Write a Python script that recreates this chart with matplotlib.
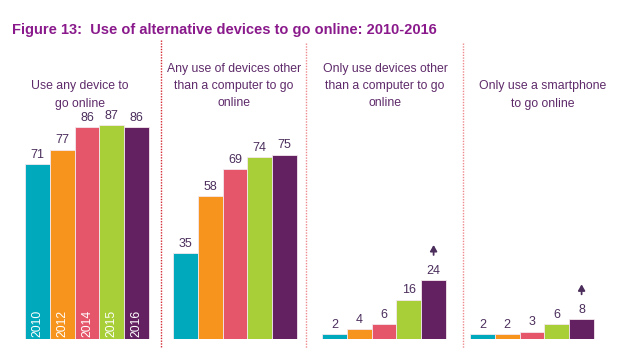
import matplotlib
matplotlib.use("Agg")
import matplotlib.pyplot as plt
import numpy as np

plt.rcParams['font.family'] = ['Liberation Sans', 'DejaVu Sans']

years = ["2010", "2012", "2014", "2015", "2016"]
groups = ["Use any device to\ngo online",
          "Any use of devices other\nthan a computer to go\nonline",
          "Only use devices other\nthan a computer to go\nonline",
          "Only use a smartphone\nto go online"]
any_device = [71, 77, 86, 87, 86]
other_than_computer = [35, 58, 69, 74, 75]
only_other = [2, 4, 6, 16, 24]
only_smartphone = [2, 2, 3, 6, 8]
values = [any_device, other_than_computer, only_other, only_smartphone]
arrow_groups = [2, 3]  # groups with significant increase arrow on 2016

colors = ["#00A9BC", "#F7941D", "#E5566A", "#A8CF38", "#632161"]
title_color = "#8A1A8C"
sub_color = "#5E2A6A"
val_color = "#4B2E5C"
div_colors = ["#D42A32", "#EE8A8E", "#EE8A8E"]

W, H = 623, 358
fig = plt.figure(figsize=(W / 100, H / 100), dpi=100)

base_px = 19
unit_px = 2.46
ax = fig.add_axes([0, base_px / H, 1, 100 * unit_px / H])
ax.set_xlim(0, W)
ax.set_ylim(0, 100)
ax.axis("off")

group_starts = [25, 173, 322, 470]
bw = 24.8
for g, vals in enumerate(values):
    xs = group_starts[g] + bw * (np.arange(len(vals)) + 0.5)
    ax.bar(xs, vals, width=bw, color=colors, edgecolor="#f4e8ee", linewidth=0.6)
    for i, (x, v) in enumerate(zip(xs, vals)):
        ax.annotate(str(v), (x, v), xytext=(0, 4.5), textcoords="offset points",
                    ha="center", va="baseline", fontsize=9, color=val_color)
        if g == 0:
            ax.annotate(years[i], (x, 0), xytext=(0, 1.5), textcoords="offset points",
                        ha="center", va="bottom", rotation=90, fontsize=8.7,
                        color="white")
    if g in arrow_groups:
        x, v = xs[-1], vals[-1]
        p0 = ax.transData.transform((x, v))
        inv = ax.transData.inverted()
        y1 = inv.transform((p0[0], p0[1] + 25))[1]
        y2 = inv.transform((p0[0], p0[1] + 35))[1]
        ax.annotate("", xy=(x, y2), xytext=(x, y1),
                    arrowprops=dict(arrowstyle="-|>,head_width=0.2,head_length=0.35",
                                    color=val_color, lw=1.3,
                                    shrinkA=0, shrinkB=0))

# dividers
for (xd, top), c in zip([(161, 40), (306, 43), (463, 43)], div_colors):
    fig.add_artist(plt.Line2D([xd / W, xd / W], [1 - top / H, 1 - 348 / H],
                              color=c, lw=1.0, ls=(0, (1, 1))))

# subtitles (centred in each section)
sub_x = [80, 234, 385, 543]
sub_y = [95, 86, 86, 95]
for x, y, t in zip(sub_x, sub_y, groups):
    fig.text(x / W, 1 - y / H, t, ha="center", va="center", fontsize=8.8,
             color=sub_color, linespacing=1.6)

fig.text(12 / W, 1 - 30 / H, "Figure 13:  Use of alternative devices to go online: 2010-2016",
         ha="left", va="center", fontsize=10.5, fontweight="bold", color=title_color)

fig.savefig("out.png", dpi=100)
